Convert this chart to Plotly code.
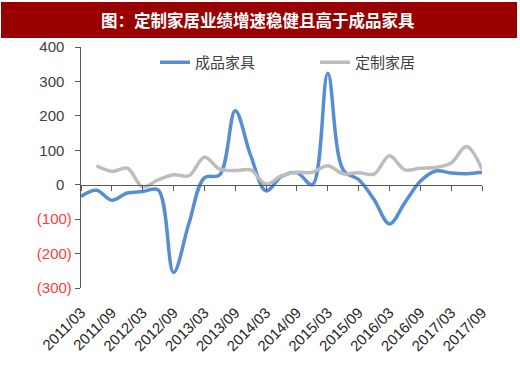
import plotly.graph_objects as go

quarters = ["2011/03", "2011/06", "2011/09", "2011/12", "2012/03", "2012/06", "2012/09",
            "2012/12", "2013/03", "2013/06", "2013/09", "2013/12", "2014/03", "2014/06",
            "2014/09", "2014/12", "2015/03", "2015/06", "2015/09", "2015/12", "2016/03",
            "2016/06", "2016/09", "2016/12", "2017/03", "2017/06", "2017/09"]
tick_labels = ["2011/03", "2011/09", "2012/03", "2012/09", "2013/03", "2013/09", "2014/03",
               "2014/09", "2015/03", "2015/09", "2016/03", "2016/09", "2017/03", "2017/09"]
finished_furniture = [-34, -16, -45, -24, -20, -15, -255, -112, 20, 29, 215, 85, -18, 24,
                      35, 0, 324, 43, 15, -43, -114, -52, 10, 40, 34, 32, 36]
custom_home = [None, 55, 39, 48, -6, 14, 29, 26, 80, 45, 41, 43, 2, 26,
               36, 36, 55, 32, 35, 31, 84, 43, 48, 50, 63, 111, 45]
y_ticks = [400, 300, 200, 100, 0, -100, -200, -300]
series_names = ["成品家具", "定制家居"]
title_text = "图：定制家居业绩增速稳健且高于成品家具"

y_min, y_max = -300, 400
W, H = 520, 367
L, R, T, B = 81, 38, 47, 79
pw, ph = W - L - R, H - T - B

def tick_text(v):
    if v < 0:
        return f'<span style="color:#FF3B3B">({abs(v)})</span>'
    return f"{v}\u2002"

fig = go.Figure()
fig.add_trace(go.Scatter(
    x=quarters, y=custom_home, name=series_names[1], mode="lines",
    line=dict(color="#BDBDBD", width=3.5, shape="spline", smoothing=1),
    xaxis="x2", yaxis="y", legendrank=2, connectgaps=False))
fig.add_trace(go.Scatter(
    x=quarters, y=finished_furniture, name=series_names[0], mode="lines",
    line=dict(color="#558ED5", width=3.5, shape="spline", smoothing=1),
    xaxis="x", yaxis="y", legendrank=1))

axis_color = "#595959"
fig.update_layout(
    width=W, height=H,
    margin=dict(l=L, r=R, t=T, b=B, pad=0, autoexpand=False),
    paper_bgcolor="white", plot_bgcolor="white",
    font=dict(family="Liberation Sans, Arial", size=14, color="#404040"),
    showlegend=True,
    legend=dict(orientation="h", x=(155 - L) / pw, xanchor="left",
                y=(288 - 46) / ph, yanchor="top",
                font=dict(family="Noto Sans CJK SC", size=15, color="#404040"),
                bgcolor="rgba(0,0,0,0)", entrywidthmode="pixels", entrywidth=115,
                traceorder="normal"),
    xaxis=dict(type="category", categoryorder="array", categoryarray=quarters,
               range=[0, len(quarters) - 1], tickmode="array", tickvals=tick_labels,
               ticktext=tick_labels, tickangle=-45, showline=False, showgrid=False,
               zeroline=False, ticks="outside", ticklen=9, tickcolor="rgba(0,0,0,0)",
               tickfont=dict(size=15, color="#262626"), automargin=False),
    xaxis2=dict(type="category", categoryorder="array", categoryarray=quarters,
                range=[0, len(quarters) - 1], overlaying="x", anchor="free",
                position=(0 - y_min) / (y_max - y_min), side="bottom",
                tickmode="array", tickvals=tick_labels, showticklabels=False,
                showline=True, linecolor=axis_color, linewidth=1.3,
                ticks="outside", ticklen=5, tickcolor=axis_color, tickwidth=1.3,
                showgrid=False, zeroline=False, automargin=False),
    yaxis=dict(range=[y_min, y_max], tickmode="array", tickvals=y_ticks,
               ticktext=[tick_text(v) for v in y_ticks], showline=True,
               linecolor=axis_color, linewidth=1.3, ticks="outside", ticklen=5,
               tickcolor=axis_color, tickwidth=1.3, showgrid=False, zeroline=False,
               tickfont=dict(size=15, color="#404040"), automargin=False),
)

# title bar
fig.add_shape(type="rect", xref="paper", yref="paper",
              x0=(1 - L) / pw, x1=(517 - L) / pw,
              y0=(H - B - 38) / ph, y1=(H - B - 2) / ph,
              fillcolor="#990000", line=dict(width=0), layer="above")
fig.add_annotation(text=f"<b>{title_text}</b>", xref="paper", yref="paper",
                   x=(258 - L) / pw, y=(H - B - 20) / ph, xanchor="center",
                   yanchor="middle", showarrow=False,
                   font=dict(family="Noto Sans CJK SC", size=16.5, color="white"))

fig.write_html("out.html", config={"displayModeBar": False},
               post_script="document.body.style.margin='0';document.body.style.overflow='hidden';")
